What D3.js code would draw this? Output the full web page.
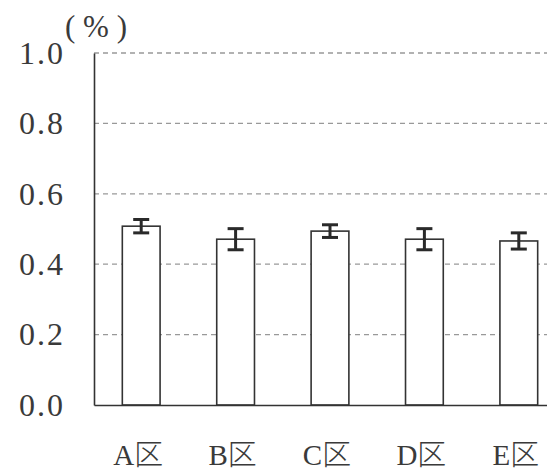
<!DOCTYPE html>
<html>
<head>
<meta charset="utf-8">
<script src="https://cdn.jsdelivr.net/npm/d3@7"></script>
<style>
  body { margin: 0; background: #fff; }
  svg { display: block; }
</style>
</head>
<body>
<svg width="547" height="474"></svg>
<script>
// 区ごとの値と誤差
var kubun = ["A区", "B区", "C区", "D区", "E区"];
var heikin = [0.508, 0.471, 0.494, 0.471, 0.466];
var gosa = [0.019, 0.030, 0.018, 0.030, 0.023];
var yTicks = [0.0, 0.2, 0.4, 0.6, 0.8, 1.0];

var svg = d3.select("svg"),
    mLeft = 94, mRight = 566, mTop = 53, mBottom = 405;

var x = d3.scaleBand()
    .domain(kubun)
    .range([mLeft, mRight])
    .paddingInner(0.6)
    .paddingOuter(0.3);

var y = d3.scaleLinear()
    .domain([0, 1])
    .range([mBottom, mTop]);

var serif = "'Liberation Serif', 'DejaVu Serif', 'Noto Sans CJK JP', serif";

// 補助線
svg.append("g")
  .selectAll("line")
  .data(yTicks.filter(function(d) { return d > 0; }))
  .enter().append("line")
    .attr("x1", mLeft)
    .attr("x2", 547)
    .attr("y1", function(d) { return y(d); })
    .attr("y2", function(d) { return y(d); })
    .attr("stroke", "#999")
    .attr("stroke-width", 1.3)
    .attr("stroke-dasharray", "5,4");

// 棒
svg.append("g")
  .selectAll("rect")
  .data(kubun)
  .enter().append("rect")
    .attr("x", function(d) { return x(d); })
    .attr("y", function(d, i) { return y(heikin[i]); })
    .attr("width", x.bandwidth())
    .attr("height", function(d, i) { return y(0) - y(heikin[i]); })
    .attr("fill", "#fff")
    .attr("stroke", "#333")
    .attr("stroke-width", 1.6);

// 誤差棒
var eb = svg.append("g")
  .attr("stroke", "#2a2a2a")
  .attr("stroke-width", 3)
  .selectAll("g")
  .data(kubun)
  .enter().append("g");

eb.append("line")
  .attr("x1", function(d) { return x(d) + x.bandwidth() / 2; })
  .attr("x2", function(d) { return x(d) + x.bandwidth() / 2; })
  .attr("y1", function(d, i) { return y(heikin[i] + gosa[i]); })
  .attr("y2", function(d, i) { return y(heikin[i] - gosa[i]); });

eb.append("line")
  .attr("x1", function(d) { return x(d) + x.bandwidth() / 2 - 8; })
  .attr("x2", function(d) { return x(d) + x.bandwidth() / 2 + 8; })
  .attr("y1", function(d, i) { return y(heikin[i] + gosa[i]); })
  .attr("y2", function(d, i) { return y(heikin[i] + gosa[i]); });

eb.append("line")
  .attr("x1", function(d) { return x(d) + x.bandwidth() / 2 - 8; })
  .attr("x2", function(d) { return x(d) + x.bandwidth() / 2 + 8; })
  .attr("y1", function(d, i) { return y(heikin[i] - gosa[i]); })
  .attr("y2", function(d, i) { return y(heikin[i] - gosa[i]); });

// 軸
var yAxis = svg.append("g")
  .attr("transform", "translate(" + mLeft + ",0)")
  .call(d3.axisLeft(y).tickValues(yTicks).tickFormat(d3.format(".1f")).tickSize(0).tickPadding(29));
yAxis.select(".domain").attr("stroke", "#333").attr("stroke-width", 1.6);
yAxis.selectAll("text")
  .attr("font-family", serif)
  .attr("font-size", 32)
  .attr("letter-spacing", 2)
  .attr("fill", "#3a3a3a");

var xAxis = svg.append("g")
  .attr("transform", "translate(0," + mBottom + ")")
  .call(d3.axisBottom(x).tickSize(0));
xAxis.select(".domain").attr("stroke", "#333").attr("stroke-width", 1.6);
xAxis.selectAll("text")
  .attr("y", 60)
  .attr("dy", 0)
  .attr("dx", -3)
  .attr("font-family", serif)
  .attr("font-size", 29)
  .attr("font-weight", 300)
  .attr("fill", "#3a3a3a");

svg.append("text")
  .attr("x", 96)
  .attr("y", 37)
  .attr("text-anchor", "middle")
  .attr("font-family", serif)
  .attr("font-size", 31)
  .attr("fill", "#3a3a3a")
  .text("( % )");
</script>
</body>
</html>
